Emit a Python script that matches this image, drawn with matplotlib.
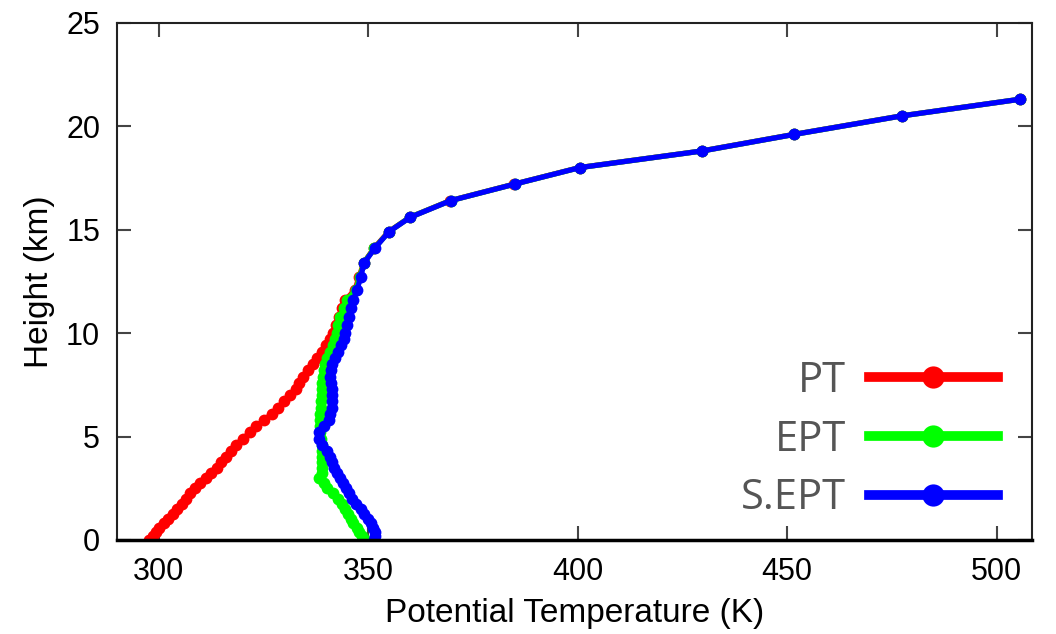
import matplotlib
matplotlib.use('Agg')
import matplotlib.pyplot as plt
from matplotlib.lines import Line2D

# heights (km) shared by all three profiles
height = [0.0, 0.2, 0.4, 0.6, 0.8, 1.0, 1.25, 1.5, 1.75, 2.0, 2.25, 2.5, 2.75, 3.0,
          3.25, 3.5, 3.75, 4.0, 4.3, 4.6, 4.9, 5.2, 5.5, 5.8, 6.1, 6.4, 6.7, 7.0,
          7.3, 7.6, 7.9, 8.2, 8.5, 8.8, 9.1, 9.4, 9.7, 10.0, 10.4, 10.8, 11.2, 11.6,
          12.1, 12.7, 13.4, 14.1, 14.9, 15.6, 16.4, 17.2, 18.0, 18.8, 19.6, 20.5, 21.3]

pt = [297.8, 298.6, 299.3, 300.2, 301.2, 302.2, 303.4, 304.5, 305.5, 306.6, 307.6, 308.8,
      310.0, 311.3, 312.6, 314.0, 315.0, 316.0, 317.4, 318.5, 320.2, 321.8, 323.3, 325.2,
      327.0, 328.5, 330.0, 331.4, 332.7, 333.6, 334.5, 335.6, 336.8, 337.9, 338.9, 340.0,
      340.9, 341.7, 342.4, 343.0, 343.8, 344.6, 346.9, 347.8, 349.0, 351.4, 354.9, 360.0,
      369.6, 384.9, 400.5, 429.6, 451.6, 477.4, 505.6]

ept = [349.2, 348.6, 347.9, 347.3, 346.5, 345.9, 345.2, 344.5, 343.7, 342.8, 341.7, 340.3,
       339.4, 338.2, 338.9, 339.0, 339.0, 339.0, 339.0, 338.9, 338.7, 338.6, 338.6, 338.6,
       338.6, 338.7, 338.8, 338.9, 339.0, 339.1, 339.2, 339.4, 339.8, 340.3, 341.0, 341.6,
       342.1, 342.5, 342.9, 343.4, 344.2, 345.0, 347.1, 348.0, 349.0, 351.5, 355.0, 360.0,
       369.7, 385.0, 400.6, 429.7, 451.7, 477.5, 505.6]

sept = [351.3, 351.6, 351.7, 351.2, 350.6, 350.0, 349.1, 348.2, 347.1, 346.1, 345.4, 344.7,
        343.9, 343.2, 342.5, 341.9, 341.4, 341.0, 340.2, 339.1, 338.2, 338.4, 339.6, 340.6,
        341.0, 341.3, 341.4, 341.4, 341.3, 341.1, 341.0, 341.1, 341.4, 342.0, 342.8, 343.6,
        344.2, 344.5, 344.9, 345.4, 345.9, 346.5, 347.4, 348.2, 349.1, 351.6, 355.0, 360.1,
        369.7, 385.0, 400.6, 429.7, 451.7, 477.5, 505.6]

series = [('PT', pt, '#ff0000'), ('EPT', ept, '#00ff00'), ('S.EPT', sept, '#0000ff')]

plt.rcParams['font.family'] = ['Liberation Sans', 'DejaVu Sans']

fig = plt.figure(figsize=(10.56, 6.34), dpi=100)
ax = fig.add_axes([0.1105, 0.1483, 0.8665, 0.8159])

for name, vals, col in series:
    ax.plot(vals, height, color=col, linewidth=3.8, marker='o', markersize=8.5,
            markeredgewidth=0, solid_capstyle='round')

ax.set_xlim(290, 508.4)
ax.set_ylim(0, 25)
ax.set_xticks([300, 350, 400, 450, 500])
ax.set_yticks([0, 5, 10, 15, 20, 25])
ax.tick_params(direction='in', length=10, width=1.5, color='#444444',
               top=True, right=True, labelsize=22, pad=12)
for s in ['left', 'top', 'right']:
    ax.spines[s].set_color('#222222')
    ax.spines[s].set_linewidth(1.5)
ax.spines['bottom'].set_color('black')
ax.spines['bottom'].set_linewidth(2.5)

ax.set_xlabel('Potential Temperature (K)', fontsize=24, labelpad=8)
ax.set_ylabel('Height (km)', fontsize=24, labelpad=8)

handles = [Line2D([], [], color=col, linewidth=7, marker='o', markersize=16,
                  markeredgewidth=0) for name, vals, col in series]
leg = ax.legend(handles, [s[0] for s in series], loc='lower right',
                bbox_to_anchor=(0.963, 0.04), frameon=False, markerfirst=False,
                borderpad=0, borderaxespad=0, handlelength=3.1, handletextpad=0.55,
                labelspacing=0.4, prop={'family': 'Open Sans', 'size': 30})
for t in leg.get_texts():
    t.set_color('#555555')

fig.savefig('out.png', dpi=100)
